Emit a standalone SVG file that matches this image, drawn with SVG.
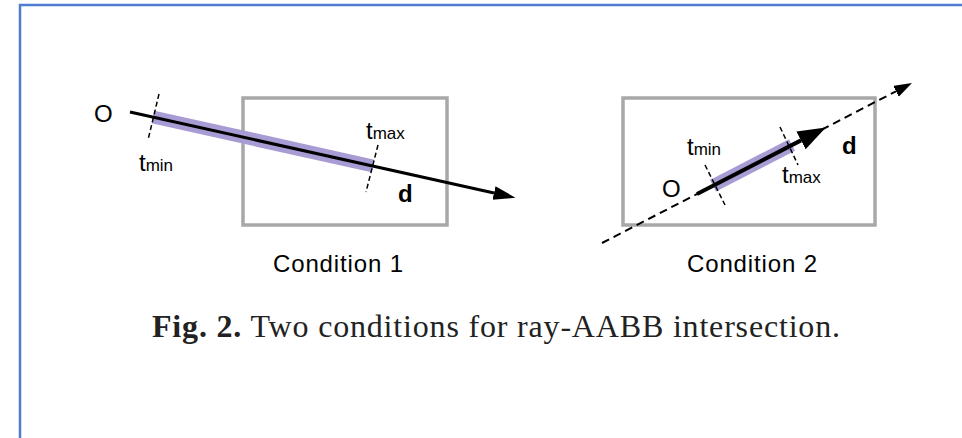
<svg xmlns="http://www.w3.org/2000/svg" width="962" height="438" viewBox="0 0 962 438">
<style>
.box{fill:none;stroke:#a8a8a8;stroke-width:3.5}
.band{stroke:#a99bd3;stroke-linecap:butt}
.ray{stroke:#000;fill:none}
.tick{stroke:#000;stroke-width:1.5;stroke-dasharray:5,3;fill:none}
.lbl{font-family:"Liberation Sans",Arial,sans-serif;fill:#000;font-size:24px}
.sub{font-size:17px}
.big{font-size:24px}
.cap{font-family:"Liberation Serif","Times New Roman",serif;fill:#222;font-size:32px}
</style>
<defs>
<marker id="ah1" markerUnits="userSpaceOnUse" markerWidth="24" markerHeight="16" refX="0" refY="7" orient="auto"><path d="M0,0 L22,7 L0,14 Z" fill="#000"/></marker>
<marker id="ah2" markerUnits="userSpaceOnUse" markerWidth="30" markerHeight="22" refX="0" refY="10" orient="auto"><path d="M0,0 L28,10 L0,20 Z" fill="#000"/></marker>
<marker id="ah3" markerUnits="userSpaceOnUse" markerWidth="20" markerHeight="14" refX="0" refY="6" orient="auto"><path d="M0,0 L18,6 L0,12 Z" fill="#000"/></marker>
</defs>
<rect width="962" height="438" fill="#fff"/>
<path d="M20,438 V5 H962" fill="none" stroke="#4f7bd3" stroke-width="2.5"/>
<g id="box1"><rect class="box" x="243" y="98" width="204" height="127"/></g>
<g id="box2"><rect class="box" x="623" y="98" width="252" height="127"/></g>
<g id="connectors">
<line class="band" x1="153" y1="117" x2="373" y2="166" stroke-width="13"/>
<line class="ray" x1="130" y1="112" x2="494" y2="193" stroke-width="3" marker-end="url(#ah1)"/>
<line class="tick" x1="159" y1="94" x2="148" y2="140"/>
<line class="tick" x1="378" y1="145" x2="366" y2="192"/>
<line class="ray" x1="602" y1="243" x2="896" y2="91.3" stroke-width="2" stroke-dasharray="8,5" marker-end="url(#ah3)"/>
<line class="band" x1="713" y1="185.7" x2="792" y2="145" stroke-width="13"/>
<line class="ray" x1="697" y1="194" x2="801" y2="140.4" stroke-width="4" marker-end="url(#ah2)"/>
<line class="tick" x1="705" y1="165" x2="725" y2="205"/>
<line class="tick" x1="780" y1="127" x2="798" y2="165"/>
</g>
<g id="labels1">
<text class="lbl" x="94" y="122">O</text>
<text class="lbl" x="139" y="171">t<tspan class="sub">min</tspan></text>
<text class="lbl" x="366" y="139">t<tspan class="sub">max</tspan></text>
<text class="lbl big" x="398" y="202" font-weight="bold">d</text>
<text class="lbl big" x="273" y="272" textLength="130">Condition 1</text>
</g>
<g id="labels2">
<text class="lbl" x="662" y="197">O</text>
<text class="lbl" x="687" y="155">t<tspan class="sub">min</tspan></text>
<text class="lbl" x="782" y="183">t<tspan class="sub">max</tspan></text>
<text class="lbl big" x="842" y="154" font-weight="bold">d</text>
<text class="lbl big" x="687" y="272" textLength="130">Condition 2</text>
</g>
<g id="caption">
<text class="cap" x="152" y="337" textLength="688"><tspan font-weight="bold">Fig. 2.</tspan> Two conditions for ray-AABB intersection.</text>
</g>
</svg>
